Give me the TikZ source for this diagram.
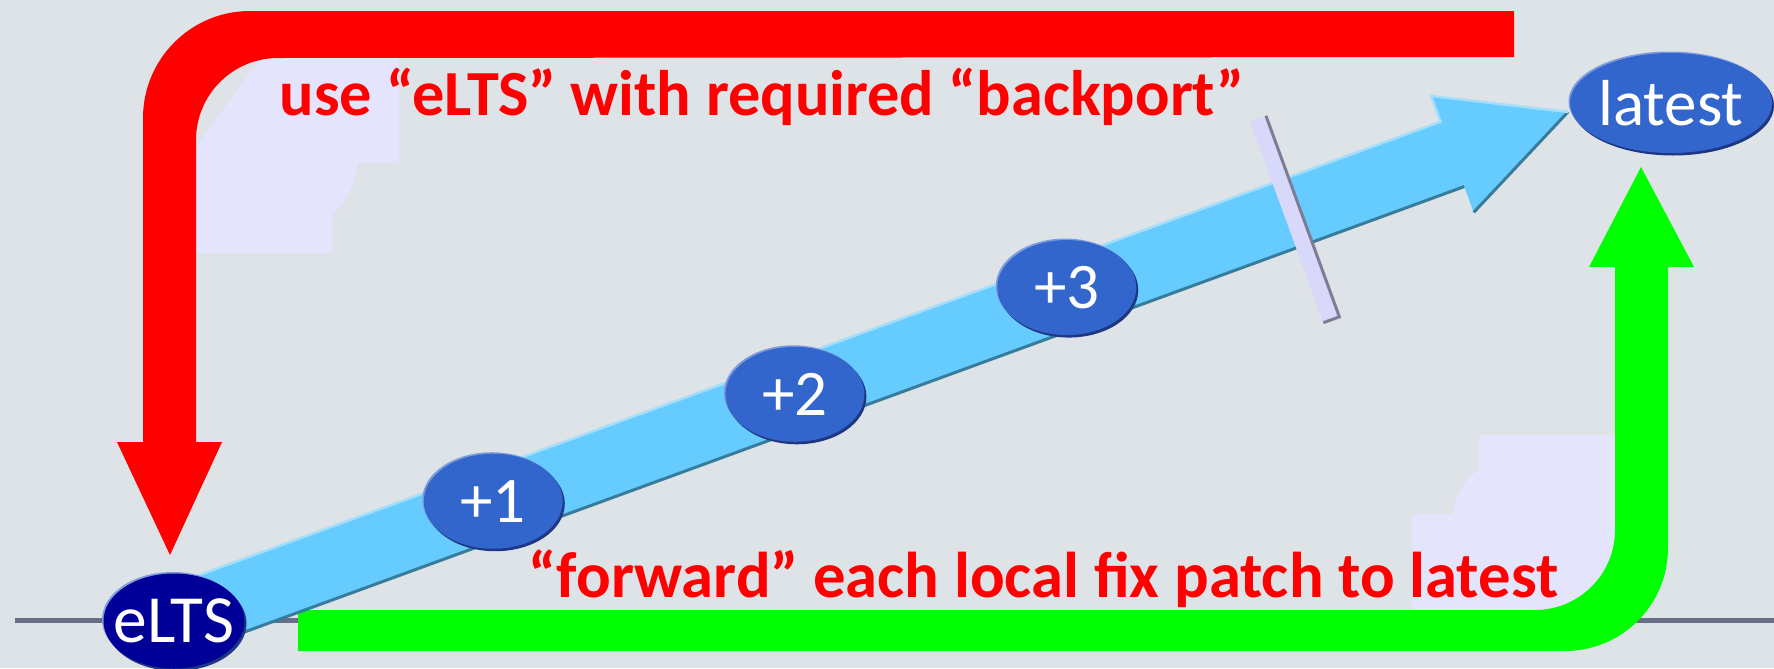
\documentclass[tikz,border=0pt]{standalone}
\usepackage{fontspec}
\setmainfont{Carlito}
\usetikzlibrary{calc}
\usetikzlibrary{shapes.geometric}
\usetikzlibrary{backgrounds}
\usepackage{xcolor}
\definecolor{bgray}{RGB}{222,227,231}
\definecolor{lineclr}{RGB}{105,110,135}
\definecolor{patch}{RGB}{228,228,252}
\definecolor{arrowblue}{RGB}{102,204,255}
\definecolor{arrowdark}{RGB}{55,125,155}
\definecolor{arrowlight}{RGB}{165,222,250}
\definecolor{barfill}{RGB}{216,216,250}
\definecolor{bargray}{RGB}{125,125,150}
\definecolor{nodeblue}{RGB}{51,102,204}
\definecolor{eltsblue}{RGB}{0,0,153}
\definecolor{rimdark}{RGB}{30,55,130}
\definecolor{rimlight}{RGB}{125,155,220}

\begin{document}
\begin{tikzpicture}[x=.1mm, y=.1mm,
 blob/.style={ellipse, fill=nodeblue, minimum width=13.9mm, minimum height=9.5mm, inner sep=-3mm,
  text=white, font=\fontsize{18.5}{20}\selectfont,
  preaction={fill=rimlight, transform canvas={shift={(-1.5,1.5)}}},
  preaction={fill=rimdark, transform canvas={shift={(2,-2.5)}}}},
 note/.style={text=red, font=\fontsize{18.3}{20}\selectfont\bfseries, inner sep=0pt, anchor=base west}]
\useasboundingbox (0,0) rectangle (1774,668);

\node[blob, fill=eltsblue, minimum width=14.1mm, font=\fontsize{19.2}{20}\selectfont] (eLTS) at (174,47) {eLTS};
\node[blob, minimum width=20.2mm, minimum height=10mm] (latest) at (1671,565) {latest};

\begin{scope}[on background layer]
\fill[bgray] (0,0) rectangle (1774,668);
\draw[lineclr, line width=.5mm] (15,48) -- (1774,48);
\fill[patch] (196,521) -- (196,415) -- (332,415) -- (332,453) .. controls (347,467) and (356,487) .. (358,505)
 -- (399,505) -- (399,612) -- (262,612) -- cycle;
\fill[patch] (1412,58) -- (1412,154) -- (1452,154) .. controls (1456,175) and (1466,190) .. (1479,198)
 -- (1479,233) -- (1616,233) -- (1616,58) -- cycle;
\fill[red] (1514,657) -- (250,657) arc[start angle=90, end angle=180, radius=107] -- (143,226) -- (117,226)
 -- (170,113) -- (222,226) -- (196,226) -- (196,528) arc[start angle=180, end angle=90, radius=82] -- (1514,611) -- cycle;
\fill[green] (298,17) -- (1565,17) arc[start angle=-90, end angle=0, radius=103] -- (1668,401) -- (1694,401)
 -- (1641,501) -- (1589,401) -- (1615,401) -- (1615,138) arc[start angle=0, end angle=-90, radius=80] -- (298,58) -- cycle;
\begin{scope}[shift={(eLTS.center)}, rotate=20.06]
\fill[arrowblue] (0,-34.5) -- (1361,-34.5) -- (1361,-62) -- (1484,0) -- (1361,62) -- (1361,34.5) -- (0,34.5) -- cycle;
\draw[arrowdark, line width=.3mm] (0,-34.5) -- (1361,-34.5) (1361,-62) -- (1484,0);
\draw[arrowlight, line width=.25mm] (0,34.5) -- (1361,34.5) -- (1361,62) -- (1484,0);
\fill[barfill] (1182,-114) rectangle (1199,100);
\draw[bargray, line width=.3mm] (1199,100) -- (1199,-114) -- (1182,-114);
\end{scope}
\end{scope}

\begin{scope}[shift={(eLTS.center)}, rotate=20.06]
\foreach \d/\s/\n in {341/3/1, 661/0/2, 953/7/3}
 \node[blob] (p\n) at (\d,\s) {+\n};
\end{scope}

\node[note] (backport) at (279,553) {use “eLTS” with required “backport”};
\node[note, font=\fontsize{18.4}{20}\selectfont\bfseries] (forward) at (528,71) {“forward” each local fix patch to latest};
\end{tikzpicture}
\end{document}
